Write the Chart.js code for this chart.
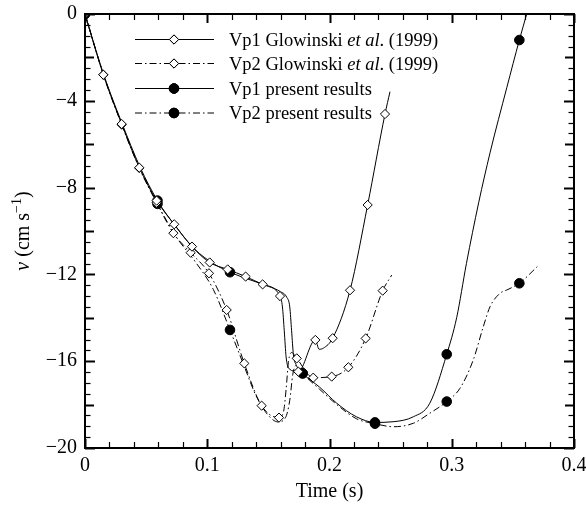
<!DOCTYPE html>
<html>
<head>
<meta charset="utf-8">
<title>Vp1 / Vp2 velocity</title>
<script src="https://cdn.jsdelivr.net/npm/chart.js@4.4.1/dist/chart.umd.min.js"></script>
<style>
  html, body { margin: 0; padding: 0; background: #fff; }
</style>
</head>
<body>
<canvas id="velocity-chart" width="586" height="507"></canvas>
<script>
// Axis tick labels
const xTickVals = [0, 0.1, 0.2, 0.3, 0.4];
const yTickVals = [0, -4, -8, -12, -16, -20];

// Vp1, Glowinski et al. (1999): curve and marked samples
const vp1GlowT = [0, 0.015, 0.030, 0.0444, 0.0586, 0.073, 0.0875, 0.102, 0.1167, 0.1314, 0.1453, 0.1595, 0.1615, 0.163, 0.1645, 0.167, 0.1745, 0.1884, 0.1915, 0.195, 0.2026, 0.2168, 0.2312, 0.2454, 0.2495];
const vp1GlowV = [0, -2.8, -5.07, -7.08, -8.6, -9.69, -10.72, -11.45, -11.77, -12.1, -12.46, -13.0, -13.5, -14.6, -15.8, -16.35, -16.48, -15.02, -15.45, -15.4, -14.94, -12.73, -8.8, -4.61, -3.58];
const vp1GlowMarkT = [0, 0.015, 0.030, 0.0444, 0.0586, 0.073, 0.0875, 0.102, 0.1167, 0.1314, 0.1453, 0.1595, 0.1745, 0.1884, 0.2026, 0.2168, 0.2312, 0.2454];
const vp1GlowMarkV = [0, -2.8, -5.07, -7.08, -8.6, -9.69, -10.72, -11.45, -11.77, -12.1, -12.46, -13.0, -16.48, -15.02, -14.94, -12.73, -8.8, -4.61];

// Vp2, Glowinski et al. (1999)
const vp2GlowT = [0, 0.015, 0.030, 0.0444, 0.0586, 0.0723, 0.0864, 0.1014, 0.1159, 0.1303, 0.1445, 0.1587, 0.1625, 0.1645, 0.1665, 0.169, 0.1732, 0.1867, 0.2018, 0.2154, 0.2296, 0.2435, 0.2509];
const vp2GlowV = [0, -2.8, -5.1, -7.1, -8.7, -10.1, -11.0, -11.95, -13.64, -16.1, -18.05, -18.6, -18.3, -17.3, -16.0, -15.6, -15.87, -16.76, -16.71, -16.28, -14.95, -12.75, -12.03];
const vp2GlowMarkT = [0, 0.015, 0.030, 0.0444, 0.0586, 0.0723, 0.0864, 0.1014, 0.1159, 0.1303, 0.1445, 0.1587, 0.1732, 0.1867, 0.2018, 0.2154, 0.2296, 0.2435];
const vp2GlowMarkV = [0, -2.8, -5.1, -7.1, -8.7, -10.1, -11.0, -11.95, -13.64, -16.1, -18.05, -18.6, -15.87, -16.76, -16.71, -16.28, -14.95, -12.75];

// Vp1, present results
const vp1PresT = [0, 0.015, 0.030, 0.045, 0.0593, 0.075, 0.09, 0.105, 0.1186, 0.135, 0.15, 0.16, 0.165, 0.1675, 0.169, 0.1705, 0.173, 0.178, 0.192, 0.206, 0.222, 0.2372, 0.252, 0.2686, 0.282, 0.2959, 0.304, 0.312, 0.322, 0.3313, 0.345, 0.3553, 0.3613];
const vp1PresV = [0, -2.75, -5.0, -7.05, -8.6, -9.85, -10.85, -11.5, -11.9, -12.25, -12.55, -12.8, -13.05, -13.5, -14.6, -15.7, -16.2, -16.56, -17.2, -17.94, -18.56, -18.82, -18.79, -18.56, -17.94, -15.68, -14.0, -11.5, -8.7, -6.4, -3.4, -1.2, 0];
const vp1PresMarkT = [0, 0.0593, 0.1186, 0.178, 0.2372, 0.2959, 0.3553];
const vp1PresMarkV = [0, -8.6, -11.9, -16.56, -18.82, -15.68, -1.2];

// Vp2, present results
const vp2PresT = [0, 0.015, 0.030, 0.045, 0.0593, 0.075, 0.09, 0.105, 0.1186, 0.13, 0.14, 0.15, 0.158, 0.164, 0.1675, 0.17, 0.1725, 0.178, 0.192, 0.206, 0.222, 0.2372, 0.2522, 0.2686, 0.282, 0.2959, 0.3067, 0.3176, 0.3258, 0.3313, 0.3395, 0.345, 0.3553, 0.37];
const vp2PresV = [0, -2.75, -5.05, -7.1, -8.75, -10.3, -11.4, -12.7, -14.56, -16.2, -17.6, -18.5, -18.8, -18.6, -17.8, -16.6, -16.2, -16.56, -17.3, -18.0, -18.65, -18.88, -19.02, -18.86, -18.4, -17.86, -17.25, -15.94, -14.41, -13.49, -12.87, -12.72, -12.41, -11.64];
const vp2PresMarkT = [0, 0.0593, 0.1186, 0.178, 0.2372, 0.2959, 0.3553];
const vp2PresMarkV = [0, -8.75, -14.56, -16.56, -18.88, -17.86, -12.41];

const SERIF = '"Liberation Serif", "Times New Roman", serif';
const DASH_DOT = [7, 3, 1.5, 3];

const zip = (ts, vs) => ts.map((t, i) => ({ x: t, y: vs[i] }));

// One entry per legend row: name parts (italic flag) + styling
const series = [
  { name: [['Vp1 Glowinski ', false], ['et al', true], ['. (1999)', false]],
    t: vp1GlowT, v: vp1GlowV, mt: vp1GlowMarkT, mv: vp1GlowMarkV, dash: [], marker: 'rectRot' },
  { name: [['Vp2 Glowinski ', false], ['et al', true], ['. (1999)', false]],
    t: vp2GlowT, v: vp2GlowV, mt: vp2GlowMarkT, mv: vp2GlowMarkV, dash: DASH_DOT, marker: 'rectRot' },
  { name: [['Vp1 present results', false]],
    t: vp1PresT, v: vp1PresV, mt: vp1PresMarkT, mv: vp1PresMarkV, dash: [], marker: 'circle' },
  { name: [['Vp2 present results', false]],
    t: vp2PresT, v: vp2PresV, mt: vp2PresMarkT, mv: vp2PresMarkV, dash: DASH_DOT, marker: 'circle' }
];

function markerStyle(kind) {
  return kind === 'circle'
    ? { pointStyle: 'circle', radius: 4.8, bg: '#000', border: '#000', bw: 1 }
    : { pointStyle: 'rectRot', radius: 4.6, bg: '#fff', border: '#000', bw: 1 };
}

const datasets = [];
series.forEach(s => {
  datasets.push({
    data: zip(s.t, s.v),
    borderColor: '#000',
    borderWidth: 1,
    borderDash: s.dash,
    pointRadius: 0,
    cubicInterpolationMode: 'monotone',
    fill: false,
    order: 2
  });
  const m = markerStyle(s.marker);
  datasets.push({
    data: zip(s.mt, s.mv),
    showLine: false,
    pointStyle: m.pointStyle,
    pointRadius: m.radius,
    pointBackgroundColor: m.bg,
    pointBorderColor: m.border,
    pointBorderWidth: m.bw,
    order: 1
  });
});

// Inward ticks on all four sides plus the heavy frame
const frameTicks = {
  id: 'frameTicks',
  afterDatasetsDraw(chart) {
    const { ctx, chartArea: a, scales: { x, y } } = chart;
    ctx.save();
    ctx.strokeStyle = '#000';
    const seg = (x1, y1, x2, y2) => { ctx.beginPath(); ctx.moveTo(x1, y1); ctx.lineTo(x2, y2); ctx.stroke(); };

    for (let i = 0; i <= 20; i++) {
      const px = Math.round(x.getPixelForValue(i * 0.02)) + 0.5;
      const major = i % 5 === 0;
      const len = major ? 9 : 6;
      ctx.lineWidth = major ? 2 : 1.2;
      seg(px, a.bottom, px, a.bottom - len);
      seg(px, a.top, px, a.top + len);
    }
    for (let i = 0; i <= 40; i++) {
      const py = Math.round(y.getPixelForValue(-i * 0.5)) + 0.5;
      const len = i % 8 === 0 ? 10 : (i % 4 === 0 ? 9 : 5.5);
      ctx.lineWidth = i % 4 === 0 ? 2 : 1.2;
      seg(a.left, py, a.left + len, py);
      seg(a.right, py, a.right - len, py);
    }
    ctx.lineWidth = 2;
    ctx.strokeRect(a.left, a.top, a.right - a.left, a.bottom - a.top);
    ctx.restore();
  }
};

// Legend box inside the plot, axis titles
const annotations = {
  id: 'annotations',
  afterDraw(chart) {
    const { ctx, chartArea: a } = chart;
    ctx.save();
    ctx.fillStyle = '#000';
    ctx.strokeStyle = '#000';

    const rows = [39.5, 63.5, 88.5, 113];
    series.forEach((s, i) => {
      const yy = rows[i];
      ctx.lineWidth = 1;
      ctx.setLineDash(s.dash);
      ctx.beginPath();
      ctx.moveTo(135, yy);
      ctx.lineTo(214, yy);
      ctx.stroke();
      ctx.setLineDash([]);
      const m = markerStyle(s.marker);
      ctx.fillStyle = m.bg;
      ctx.lineWidth = m.bw;
      Chart.helpers.drawPoint(ctx, { pointStyle: m.pointStyle, radius: m.radius, borderWidth: m.bw }, 174, yy);
      ctx.fill();
      ctx.stroke();
      ctx.fillStyle = '#000';
      let tx = 229;
      s.name.forEach(([txt, ital]) => {
        ctx.font = (ital ? 'italic ' : '') + '18.5px ' + SERIF;
        ctx.textBaseline = 'alphabetic';
        ctx.textAlign = 'left';
        ctx.fillText(txt, tx, yy + 6);
        tx += ctx.measureText(txt).width;
      });
    });

    // x-axis title
    ctx.font = '20px ' + SERIF;
    ctx.textAlign = 'center';
    ctx.textBaseline = 'alphabetic';
    ctx.fillText('Time (s)', (a.left + a.right) / 2, 497);

    // y-axis title, rotated, with superscript
    const parts = [
      ['v', 'italic 20px ' + SERIF, 0],
      [' (cm s', '20px ' + SERIF, 0],
      ['\u22121', '14px ' + SERIF, -8],
      [')', '20px ' + SERIF, 0]
    ];
    let total = 0;
    parts.forEach(p => { ctx.font = p[1]; total += ctx.measureText(p[0]).width; });
    ctx.translate(22, (a.top + a.bottom) / 2);
    ctx.rotate(-Math.PI / 2);
    ctx.textAlign = 'left';
    let px = -total / 2;
    parts.forEach(p => {
      ctx.font = p[1];
      ctx.fillText(p[0], px, 7 + p[2]);
      px += ctx.measureText(p[0]).width;
    });
    ctx.restore();
  }
};

const tickFont = { family: SERIF, size: 20, lineHeight: 1 };

new Chart(document.getElementById('velocity-chart'), {
  type: 'line',
  data: { datasets },
  options: {
    responsive: false,
    animation: false,
    events: [],
    layout: { padding: { top: 14, right: 12, left: 0, bottom: 0 } },
    plugins: { legend: { display: false }, tooltip: { enabled: false } },
    scales: {
      x: {
        type: 'linear',
        min: 0,
        max: 0.4,
        grid: { display: false, drawTicks: false },
        border: { display: false },
        ticks: {
          font: tickFont,
          color: '#000',
          padding: 8,
          autoSkip: false,
          maxRotation: 0,
          callback: v => (v === 0 ? '0' : v.toFixed(1))
        },
        afterBuildTicks: s => { s.ticks = xTickVals.map(v => ({ value: v })); },
        afterFit: s => { s.height = 59; s.paddingLeft = 0; s.paddingRight = 0; }
      },
      y: {
        type: 'linear',
        min: -20,
        max: 0,
        grid: { display: false, drawTicks: false },
        border: { display: false },
        ticks: {
          font: tickFont,
          color: '#000',
          padding: 8,
          autoSkip: false,
          callback: v => (v < 0 ? '\u2212' + Math.abs(v) : '0')
        },
        afterBuildTicks: s => { s.ticks = yTickVals.map(v => ({ value: v })); },
        afterFit: s => { s.width = 85; s.paddingTop = 0; s.paddingBottom = 0; }
      }
    }
  },
  plugins: [frameTicks, annotations]
});
</script>
</body>
</html>
